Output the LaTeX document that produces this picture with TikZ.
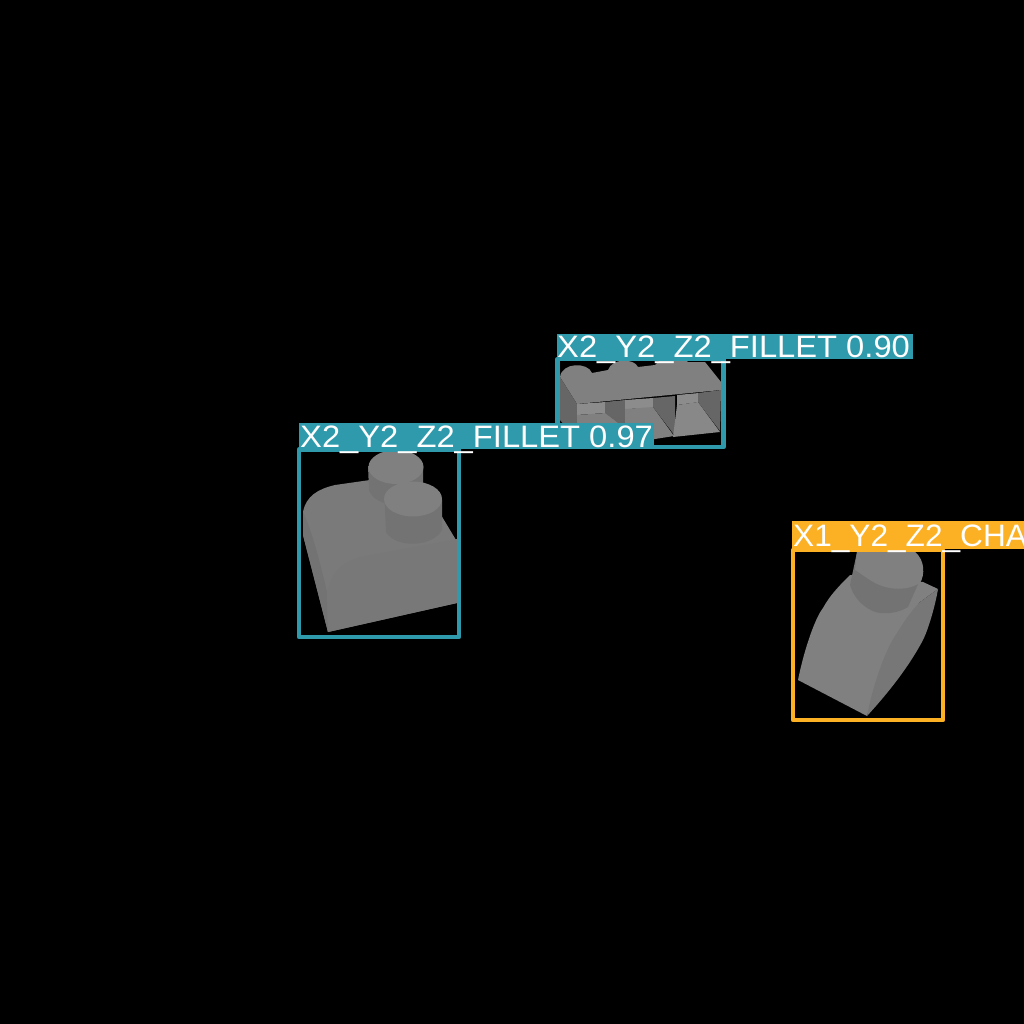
\documentclass[tikz,border=0pt]{standalone}
\usepackage{fontspec}
\setmainfont{Liberation Sans}
\definecolor{tealbox}{HTML}{2E9AAB}
\definecolor{orangebox}{HTML}{FCB024}
\definecolor{g0}{HTML}{8C8C8C}
\definecolor{g1}{HTML}{808080}
\definecolor{g1b}{HTML}{7A7A7A}
\definecolor{g2}{HTML}{737373}
\definecolor{g3}{HTML}{666666}
\tikzset{
  detbox/.style={line width=4.5pt,line join=round},
  labeltext/.style={text=white,anchor=base west,inner sep=0pt,font=\fontsize{31}{31}\selectfont}
}
\begin{document}
\begin{tikzpicture}[x=1pt,y=-1pt]
\useasboundingbox (0,0) rectangle (1024,1024);
\fill[black] (0,0) rectangle (1024,1024);

% ---- part, upper middle
\fill[g1] (560,377) .. controls (562,362) and (588,362) .. (592,373)
  -- (608,370) .. controls (612,358) and (634,358) .. (638,367)
  -- (655,365) .. controls (662,355) and (684,356) .. (688,362)
  -- (705,362) -- (721,382) -- (721,390) -- (577,404) -- cycle;
% left wall
\fill[g3] (560,377) -- (577,404) -- (577,440) -- (560,420) -- cycle;
% bay 1
\fill[g0] (577,404) -- (606,402) -- (606,413) -- (577,415) -- cycle;
\fill[g1] (577,415) -- (606,413) -- (625,428) -- (625,441) -- (577,441) -- cycle;
\fill[g3] (605,402) -- (625,400) -- (625,428) -- (605,413) -- cycle;
% bay 2
\fill[g0] (625,400) -- (653,398) -- (653,408) -- (625,409) -- cycle;
\fill[g1] (625,409) -- (653,407) -- (674,436) -- (655,439) -- (625,441) -- cycle;
\fill[g3] (653,398) -- (675,396) -- (675,436) -- (653,407) -- cycle;
% bay 3
\fill[g0] (677,395) -- (699,393) -- (699,402) -- (677,405) -- cycle;
\fill[g0!70!g1] (677,405) -- (698,402) -- (720,432) -- (673,437) -- cycle;
\fill[g3] (698,393) -- (721,390) -- (720,431) -- (698,402) -- cycle;
\draw[detbox,tealbox] (557.5,359) rectangle (723.5,447);
\fill[tealbox] (557,334) rectangle (913,359);
\node[labeltext,xscale=1.055] (lab2) at (557,357) {X2\_Y2\_Z2\_FILLET 0.90};

% ---- part, left
\fill[g1b] (303,512) .. controls (306,496) and (318,489) .. (335,485)
  -- (370,480) -- (420,480) -- (456,540) -- (457,603) -- (328,632) -- (303,535) -- cycle;
\fill[g2] (303,512) .. controls (312,530) and (322,570) .. (327,592)
  -- (328,632) -- (303,535) -- cycle;
\fill[g1b!70!g2] (327,592) .. controls (332,570) and (345,560) .. (365,556)
  -- (457,539) -- (457,603) -- (328,632) -- cycle;
% rear stud
\fill[g2] (368,466) -- (369,490) .. controls (372,498) and (380,503) .. (390,504) -- (423,490) -- (423,466) -- cycle;
\fill[g1] (396,467) ellipse[x radius=27.5,y radius=17];
% front stud
\fill[g2] (384.5,500) -- (386,532) .. controls (395,548) and (432,548) .. (442,530) -- (442,500) -- cycle;
\fill[g1] (413,499) ellipse[x radius=29,y radius=17.5];
\draw[detbox,tealbox] (299,449.5) rectangle (459,637);
\fill[tealbox] (299,423) rectangle (654,449);
\node[labeltext,xscale=1.055] (lab1) at (300,447) {X2\_Y2\_Z2\_FILLET 0.97};

% ---- part, right
\fill[g1] (798,680) .. controls (804,650) and (815,618) .. (823,608)
  .. controls (830,595) and (840,585) .. (850,575)
  -- (923,582) -- (938,589) -- (920,602)
  .. controls (905,620) and (885,650) .. (867,716) -- cycle;
\fill[g2!70!g1] (938,589) .. controls (935,607) and (928,630) .. (923,640)
  .. controls (915,655) and (900,680) .. (867,716)
  .. controls (873,685) and (885,650) .. (897,633)
  .. controls (905,620) and (912,610) .. (920,602) -- cycle;
% stud
\fill[g2] (857,552) -- (850,585) .. controls (855,602) and (870,612) .. (880,613)
  .. controls (890,614) and (900,612) .. (908,607) -- (922,575) -- (915,552) -- cycle;
\fill[g1] (857,552) -- (915,552) .. controls (925,560) and (925,575) .. (920,583)
  .. controls (905,592) and (885,590) .. (870,580)
  .. controls (862,575) and (856,570) .. (855,570) -- cycle;
\draw[detbox,orangebox] (793,550) rectangle (943,720);
\fill[orangebox] (792,521) rectangle (1024,549);
\node[labeltext,xscale=1.02] (lab3) at (793,546) {X1\_Y2\_Z2\_CHA};
\end{tikzpicture}
\end{document}
